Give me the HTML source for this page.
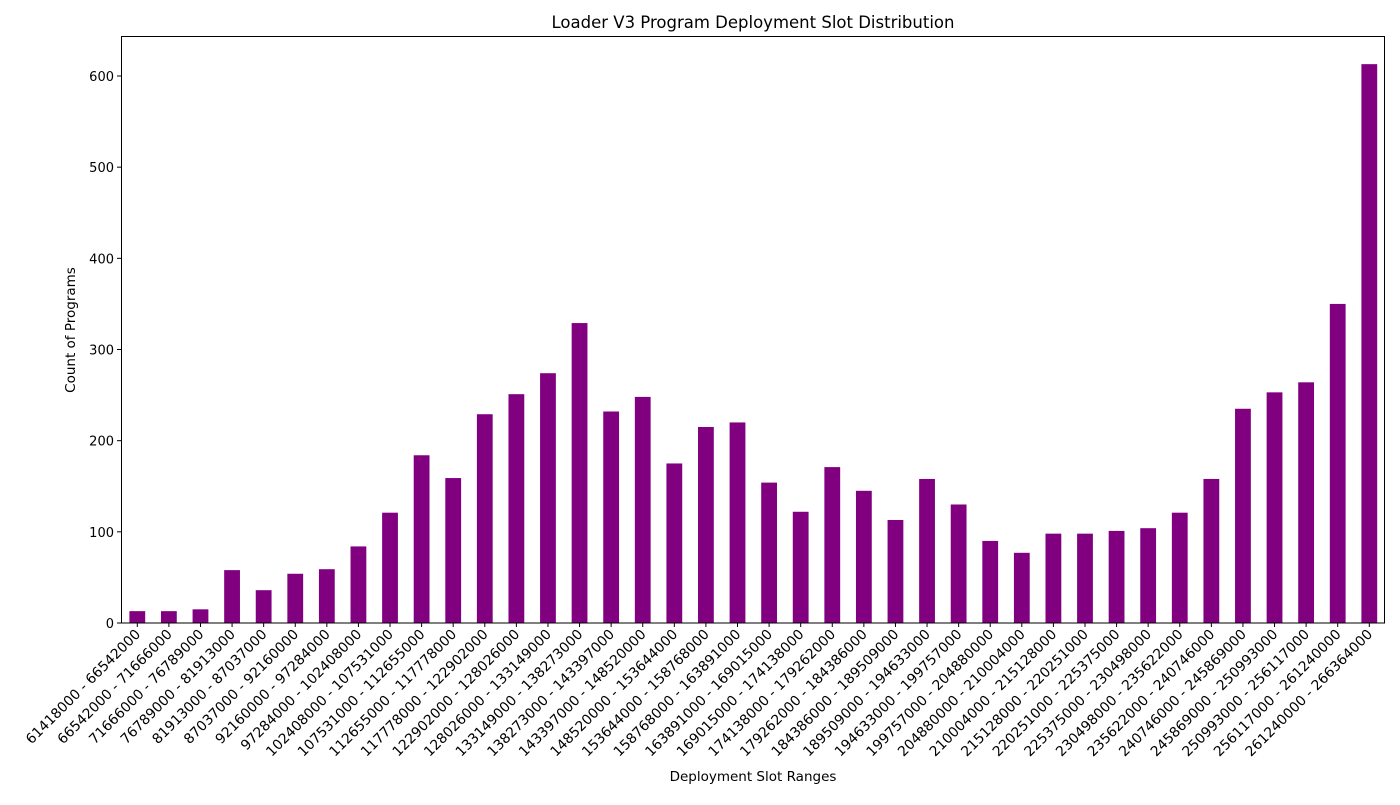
<!DOCTYPE html>
<html><head><meta charset="utf-8"><style>
body{margin:0;background:#fff;font-family:"Liberation Sans","DejaVu Sans",sans-serif}
</style></head><body>
<svg id="chart" width="1400" height="800" xmlns="http://www.w3.org/2000/svg" font-family="'DejaVu Sans','Liberation Sans',sans-serif">
<text x="753" y="28" text-anchor="middle" font-size="16.5">Loader V3 Program Deployment Slot Distribution</text>
<text x="753" y="781" text-anchor="middle" font-size="13.5">Deployment Slot Ranges</text>
<text x="75" y="330" text-anchor="middle" font-size="13.5" transform="rotate(-90 75 330)">Count of Programs</text>
<g id="bars"></g><g id="xt"></g><g id="yt"></g>
<rect x="121.5" y="36.5" width="1263" height="586.5" fill="none" stroke="#000" stroke-width="1"/>
</svg>
<script>
const categories=["61418000 - 66542000","66542000 - 71666000","71666000 - 76789000","76789000 - 81913000","81913000 - 87037000","87037000 - 92160000","92160000 - 97284000","97284000 - 102408000","102408000 - 107531000","107531000 - 112655000","112655000 - 117778000","117778000 - 122902000","122902000 - 128026000","128026000 - 133149000","133149000 - 138273000","138273000 - 143397000","143397000 - 148520000","148520000 - 153644000","153644000 - 158768000","158768000 - 163891000","163891000 - 169015000","169015000 - 174138000","174138000 - 179262000","179262000 - 184386000","184386000 - 189509000","189509000 - 194633000","194633000 - 199757000","199757000 - 204880000","204880000 - 210004000","210004000 - 215128000","215128000 - 220251000","220251000 - 225375000","225375000 - 230498000","230498000 - 235622000","235622000 - 240746000","240746000 - 245869000","245869000 - 250993000","250993000 - 256117000","256117000 - 261240000","261240000 - 266364000"];
const counts=[13,13,15,58,36,54,59,84,121,184,159,229,251,274,329,232,248,175,215,220,154,122,171,145,113,158,130,90,77,98,98,101,104,121,158,235,253,264,350,613];
const yTicks=[0,100,200,300,400,500,600];
const L=121,R=1385,T=36,B=623;
const ns="http://www.w3.org/2000/svg";
const x0=137.3,x1=1369.3;
function x(i){return x0+(x1-x0)*i/(categories.length-1);}
function y(v){return B-(B-76)*v/600;}
const bw=(x1-x0)/(categories.length-1)*0.5;
const bars=document.getElementById('bars'),xt=document.getElementById('xt'),yt=document.getElementById('yt');
counts.forEach((v,i)=>{
 const r=document.createElementNS(ns,'rect');
 
 
 r.setAttribute('x',x(i)-bw/2);r.setAttribute('width',bw);
 r.setAttribute('y',y(v));r.setAttribute('height',B-y(v));r.setAttribute('fill','#800080');
 bars.appendChild(r);
 const tk=document.createElementNS(ns,'line');
 
 
 tk.setAttribute('x1',x(i));tk.setAttribute('x2',x(i));tk.setAttribute('y1',B);tk.setAttribute('y2',B+4);tk.setAttribute('stroke','#000');
 xt.appendChild(tk);
 const t=document.createElementNS(ns,'text');
 
 
 const tx=x(i)+4,ty=B+12;
 t.setAttribute('x',tx);t.setAttribute('y',ty);t.setAttribute('text-anchor','end');t.setAttribute('font-size','13.9');
 t.setAttribute('transform','rotate(-45 '+tx+' '+ty+')');t.textContent=categories[i];
 xt.appendChild(t);
});
yTicks.forEach(v=>{
 const tk=document.createElementNS(ns,'line');
 
 
 tk.setAttribute('x1',L-4);tk.setAttribute('x2',L);tk.setAttribute('y1',y(v));tk.setAttribute('y2',y(v));tk.setAttribute('stroke','#000');
 yt.appendChild(tk);
 const t=document.createElementNS(ns,'text');
 
 
 t.setAttribute('x',L-7);t.setAttribute('y',y(v)+5);t.setAttribute('text-anchor','end');t.setAttribute('font-size','13');
 t.textContent=v;yt.appendChild(t);
});
</script>
</body></html>
